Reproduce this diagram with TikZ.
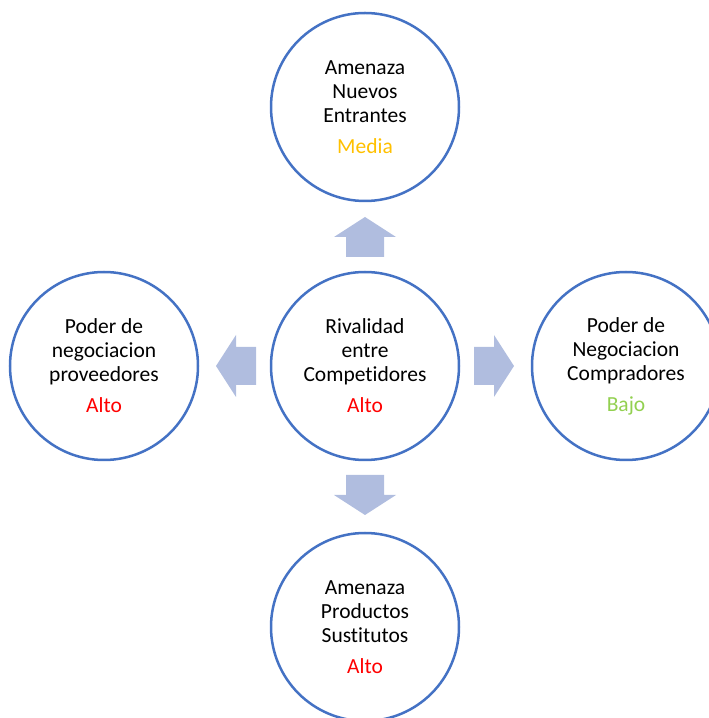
\documentclass[tikz,border=0pt]{standalone}
\usepackage{fontspec}
\setmainfont{Carlito}[Ligatures={NoCommon,NoRare,NoDiscretionary}]
\usepackage{xcolor}
\usetikzlibrary{positioning}
\definecolor{ringblue}{RGB}{68,114,196}
\definecolor{arrowblue}{RGB}{176,189,223}
\definecolor{levelred}{RGB}{255,0,0}
\definecolor{levelmedia}{RGB}{255,192,0}
\definecolor{levelbajo}{RGB}{146,208,80}
\newcommand{\blockarrow}[2]{%
  \def\Rin{109}
  \def\Rhead{129}
  \def\Rtip{149}
  \begin{scope}[shift={(#1.center)},rotate=#2]
    \fill[arrowblue]
    (\Rin,-19) -- (\Rhead,-19) -- (\Rhead,-31) -- (\Rtip,0)
    -- (\Rhead,31) -- (\Rhead,19) -- (\Rin,19) -- cycle;
  \end{scope}
}
\tikzset{force/.style={circle,draw=ringblue,line width=2.5pt,minimum size=188pt,
    inner sep=0pt,align=center,font=\fontsize{21.5}{24}\selectfont}}

\begin{document}
\begin{tikzpicture}[x=1pt,y=1pt]
		\useasboundingbox (0,0) rectangle (709,718);
		\clip (0,0) rectangle (709,718);
		\node[force] (rival) at (365,352) {Rivalidad\\entre\\Competidores\\[7pt]\textcolor{levelred}{Alto}};
		\node[force] (nuevos) at (365,611) {Amenaza\\Nuevos\\Entrantes\\[7pt]\textcolor{levelmedia}{Media}};
		\node[force] (sustitutos) at (365,91) {Amenaza\\Productos\\Sustitutos\\[7pt]\textcolor{levelred}{Alto}};
		\node[force] (proveedores) at (104,352) {Poder de\\negociacion\\proveedores\\[7pt]\textcolor{levelred}{Alto}};
		\node[force] (compradores) at (626,352) {Poder de\\Negociacion\\Compradores\\[7pt]\textcolor{levelbajo}{Bajo}};
		\blockarrow{rival}{90}
		\blockarrow{rival}{-90}
		\blockarrow{rival}{180}
		\blockarrow{rival}{0}
\end{tikzpicture}
\end{document}
